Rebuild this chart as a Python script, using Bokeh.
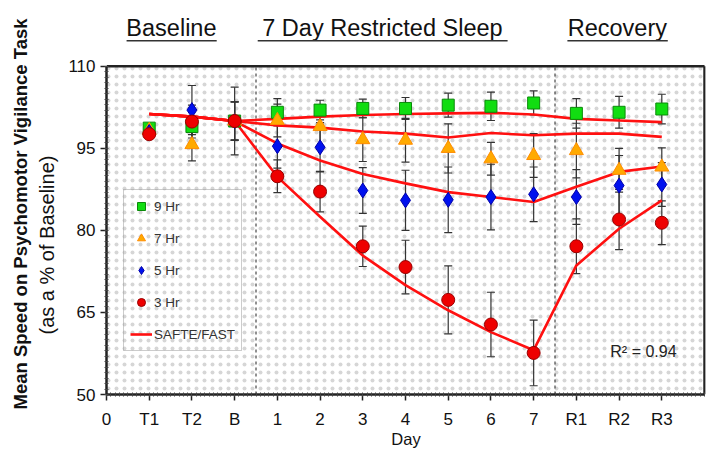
from bokeh.plotting import figure
from bokeh.models import (FixedTicker, Label, BoxAnnotation, Legend, LegendItem,
                          Range1d, Title)
from bokeh.core.properties import value
from bokeh.embed import file_html
from bokeh.resources import INLINE

# ---------------- data ----------------
x_labels = ["0", "T1", "T2", "B", "1", "2", "3", "4", "5", "6", "7", "R1", "R2", "R3"]
x_pos = [1, 2, 3, 4, 5, 6, 7, 8, 9, 10, 11, 12, 13]

hr9 = [98.7, 99.0, 100.0, 101.6, 102.0, 102.3, 102.3, 102.9, 102.7, 103.3, 101.4, 101.6, 102.2]
hr7 = [98.3, 95.7, 100.0, 100.1, 99.0, 96.6, 96.5, 95.0, 93.1, 93.7, 94.6, 91.0, 91.6]
hr5 = [98.0, 102.0, 100.0, 95.4, 95.2, 87.3, 85.5, 85.6, 86.1, 86.6, 86.1, 88.2, 88.4]
hr3 = [97.6, 99.9, 100.0, 89.9, 87.1, 77.1, 73.3, 67.3, 62.8, 57.6, 77.1, 82.0, 81.4]

err9 = [0, 3.0, 3.5, 2.5, 1.8, 1.7, 2.0, 2.2, 2.6, 2.2, 2.7, 2.9, 2.7]
err7 = [0, 3.0, 3.5, 3.0, 3.5, 4.0, 4.0, 4.5, 3.0, 4.0, 5.0, 4.0, 3.5]
err5 = [0, 4.5, 6.2, 4.0, 4.5, 4.2, 5.5, 6.0, 6.0, 5.0, 5.0, 5.5, 4.0]
err3 = [0, 3.0, 3.5, 3.0, 3.7, 3.7, 4.9, 6.2, 5.9, 6.0, 5.0, 5.5, 4.0]

model9 = [101.3, 100.8, 100.0, 100.4, 100.8, 101.1, 101.3, 101.4, 101.5, 101.2, 100.4, 100.1, 99.8]
model7 = [101.3, 100.8, 100.0, 99.2, 98.8, 98.1, 97.7, 97.0, 97.8, 97.4, 97.7, 97.7, 97.1]
model5 = [101.3, 100.8, 100.0, 95.9, 92.8, 90.3, 88.6, 87.0, 86.1, 85.2, 88.0, 90.7, 91.7]
model3 = [101.3, 100.8, 100.0, 89.8, 82.5, 75.4, 70.0, 65.4, 61.4, 58.1, 73.6, 80.3, 85.5]

y_ticks = [50, 65, 80, 95, 110]
y_min, y_max = 50, 110
x_min, x_max = 0, 14
headers = ["Baseline", "7 Day Restricted Sleep", "Recovery"]
header_x = [1.52, 6.46, 11.96]
underline_x0 = [0.47, 3.54, 10.79]
underline_x1 = [2.58, 9.39, 13.14]
phase_breaks = [3.5, 10.5]

FONT = "Liberation Sans"
INK = "#111111"

# frame: x 106..705 px, y 0..395 px (the top strip holds the section headers)
p = figure(width=707, height=450, output_backend="svg", toolbar_location=None,
           x_range=Range1d(x_min, 14.023), y_range=Range1d(y_min, 122.04),
           min_border_left=106, min_border_right=2, min_border_top=0, min_border_bottom=55)
p.xgrid.visible = False
p.ygrid.visible = False
p.background_fill_color = "white"
p.outline_line_color = None

# dotted texture inside the plotting box
p.add_layout(BoxAnnotation(left=x_min, right=x_max, bottom=y_min, top=y_max,
                           fill_alpha=0, line_alpha=0, hatch_pattern="dot", hatch_scale=8,
                           hatch_color="#d6d6d6", hatch_weight=0.7, level="underlay"))

# axes
p.xaxis.ticker = FixedTicker(ticks=list(range(14)), minor_ticks=[i / 10 for i in range(0, 141)])
p.xaxis.major_label_overrides = {i: lab for i, lab in enumerate(x_labels)}
p.yaxis.ticker = FixedTicker(ticks=y_ticks, minor_ticks=list(range(50, 111)))
p.yaxis.bounds = (y_min, y_max)
p.xaxis.bounds = (x_min, x_max)
for ax in (p.xaxis[0], p.yaxis[0]):
    ax.axis_line_width = 2.5
    ax.axis_line_color = "#222222"
    ax.major_tick_line_color = "#222222"
    ax.major_tick_line_width = 1.5
    ax.major_tick_out = 6
    ax.major_tick_in = 0
    ax.minor_tick_line_color = "#444444"
    ax.minor_tick_in = 2
    ax.minor_tick_out = 2
    ax.major_label_text_font = FONT
    ax.major_label_text_font_size = "17px"
    ax.major_label_text_color = INK
    ax.axis_label_text_font = FONT
    ax.axis_label_text_color = INK
    ax.axis_label_text_font_style = "normal"
p.xaxis.major_label_standoff = 9
p.xaxis.axis_label = "Day"
p.xaxis.axis_label_text_font_size = "16.5px"
p.xaxis.axis_label_standoff = -2
p.yaxis.major_label_standoff = 5

# y titles (two lines, bold line outermost)
t_norm = Title(text="(as a % of Baseline)", align="left", offset=60, standoff=16,
               text_font=FONT, text_font_size="20px", text_font_style="normal",
               text_color=INK)
t_bold = Title(text="Mean Speed on Psychomotor Vigilance Task", align="left", offset=-15,
               standoff=-10, text_font=FONT, text_font_size="18.5px", text_font_style="bold",
               text_color=INK)
p.add_layout(t_norm, "left")
p.add_layout(t_bold, "left")

# frame top / right borders
p.segment(x0=[x_min, x_max], y0=[y_max, y_min], x1=[x_max, x_max], y1=[y_max, y_max],
          line_color="#222222", line_width=2.5)

# phase separators
p.segment(x0=phase_breaks, y0=[y_min] * 2, x1=phase_breaks, y1=[y_max] * 2,
          line_color="#222222", line_dash="3 3", line_width=1)

# section headers
p.text(x=header_x, y=[116.93] * 3, text=headers, text_font=value(FONT),
       text_font_size="23.5px", text_color=INK, text_align="center", text_baseline="middle")
p.segment(x0=underline_x0, y0=[114.7] * 3, x1=underline_x1, y1=[114.7] * 3,
          line_color="#333333", line_width=1.5)

series = [(hr9, err9), (hr7, err7), (hr5, err5), (hr3, err3)]

# error bars
for vals, errs in series:
    bx = [x for x, e in zip(x_pos, errs) if e > 0]
    lo = [v - e for v, e in zip(vals, errs) if e > 0]
    hi = [v + e for v, e in zip(vals, errs) if e > 0]
    p.segment(x0=bx, y0=lo, x1=bx, y1=hi, line_color="#333333", line_width=1.2)
    p.scatter(x=bx + bx, y=lo + hi, marker="dash", size=8, line_color="#333333", line_width=1.2)

# model lines
model_renderers = []
for m in (model9, model7, model5, model3):
    model_renderers.append(p.line(x=x_pos, y=m, line_color="#ff1010", line_width=2.6))

# markers
r9 = p.scatter(x=x_pos, y=hr9, marker="square", size=12, fill_color="#11dd11", line_color="#0a8a0a", line_width=1)
r7 = p.scatter(x=x_pos, y=hr7, marker="triangle", size=14, fill_color="#ffaa00", line_color="#ff8c00", line_width=1)
r5 = p.scatter(x=x_pos, y=hr5, marker="diamond", size=15, fill_color="#0011ee", line_color="#0000aa", line_width=1)
r3 = p.scatter(x=x_pos, y=hr3, marker="circle", size=13, fill_color="#ee0000", line_color="#990000", line_width=1)

legend = Legend(items=[
    LegendItem(label="9 Hr", renderers=[r9]),
    LegendItem(label="7 Hr", renderers=[r7]),
    LegendItem(label="5 Hr", renderers=[r5]),
    LegendItem(label="3 Hr", renderers=[r3]),
    LegendItem(label="SAFTE/FAST", renderers=[model_renderers[0]]),
], location=(17, 43))
legend.border_line_color = "#999999"
legend.border_line_width = 1.5
legend.background_fill_alpha = 0
legend.label_text_font = FONT
legend.label_text_font_size = "13.5px"
legend.label_text_color = "#333333"
legend.glyph_width = 22
legend.glyph_height = 20
legend.label_height = 20
legend.label_standoff = 2
legend.spacing = 12
legend.padding = 6
legend.margin = 0
p.add_layout(legend)

# R^2
p.add_layout(Label(x=12.57, y=57.84, text="R² = 0.94", text_font=FONT, text_font_size="16px",
                   text_color="#222222", text_align="center", text_baseline="middle"))

open("out.html", "w").write(file_html(p, INLINE))
